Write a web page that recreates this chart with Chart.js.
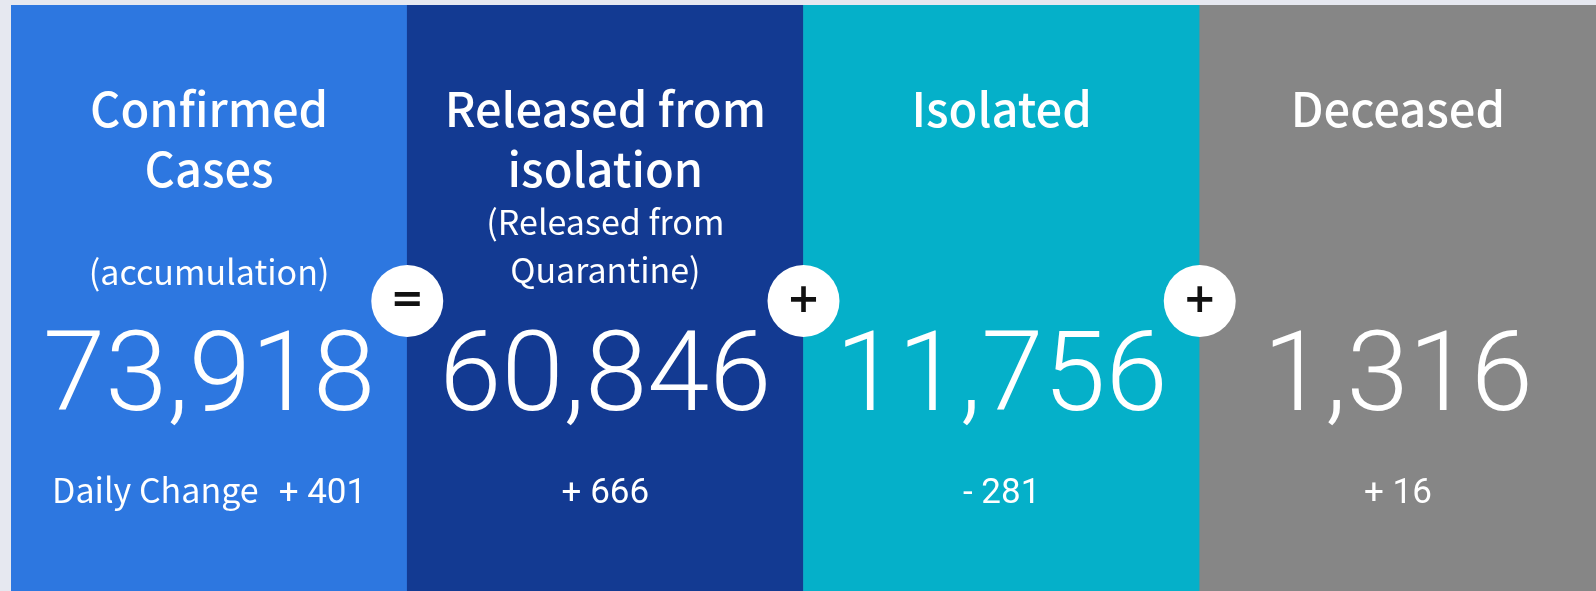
<!DOCTYPE html>
<html>
<head>
<meta charset="utf-8">
<script src="https://cdn.jsdelivr.net/npm/chart.js"></script>
<style>
    html, body { margin: 0; padding: 0; background: #e6e8f0; overflow: hidden; }
    #wrap { position: absolute; left: 11px; top: 5px; right: 0; bottom: 0; }
</style>
</head>
<body>
<div id="wrap"><canvas id="board"></canvas></div>
<script>
// panel data
const categories = ['Confirmed Cases', 'Released from isolation', 'Isolated', 'Deceased'];
const titleLines = [['Confirmed', 'Cases'], ['Released from', 'isolation'], ['Isolated'], ['Deceased']];
const noteLines = [['(accumulation)'], ['(Released from', 'Quarantine)'], [], []];
const totals = [73918, 60846, 11756, 1316];
const dailyChange = [401, 666, -281, 16];
const operators = ['=', '+', '+'];
const panelSpan = [1, 1, 1, 1];
const panelColors = ['#2d77e0', '#133a92', '#05b0c9', '#868686'];

const numFont = 'Roboto';
const textFont = '"Noto Sans CJK KR", "Noto Sans", sans-serif';

function signed(v) {
    return (v < 0 ? '- ' : '+ ') + Math.abs(v);
}

const panelText = {
    id: 'panelText',
    afterDatasetsDraw(chart) {
        const ctx = chart.ctx;
        const xs = chart.scales.x;
        const top = chart.chartArea.top;
        ctx.save();
        ctx.fillStyle = '#ffffff';
        ctx.textAlign = 'center';
        ctx.textBaseline = 'alphabetic';
        categories.forEach((c, i) => {
            const cx = xs.getPixelForValue(i);
            ctx.font = '500 47px ' + textFont;
            titleLines[i].forEach((t, k) => ctx.fillText(t, cx, top + 122 + k * 60));
            ctx.font = '34px ' + textFont;
            const n = noteLines[i];
            n.forEach((t, k) => {
                const base = n.length === 1 ? 280 : 230 + k * 48;
                ctx.fillText(t, cx, top + base);
            });
            ctx.font = '300 112px ' + numFont;
            ctx.fillText(totals[i].toLocaleString('en-US'), cx, top + 405);
            // daily change line
            const chg = signed(dailyChange[i]);
            if (i === 0) {
                const label = 'Daily Change';
                ctx.font = '34px ' + textFont;
                const w1 = ctx.measureText(label).width;
                ctx.font = '35px ' + numFont;
                const w2 = ctx.measureText(chg).width;
                const gap = 20;
                const x0 = cx - (w1 + gap + w2) / 2;
                ctx.textAlign = 'left';
                ctx.font = '34px ' + textFont;
                ctx.fillText(label, x0, top + 498);
                ctx.font = '35px ' + numFont;
                ctx.fillText(chg, x0 + w1 + gap, top + 498);
                ctx.textAlign = 'center';
            } else {
                ctx.font = '35px ' + numFont;
                ctx.fillText(chg, cx, top + 498);
            }
        });
        // operator circles between panels
        operators.forEach((op, i) => {
            const bx = (xs.getPixelForValue(i) + xs.getPixelForValue(i + 1)) / 2;
            const by = top + 296;
            ctx.beginPath();
            ctx.arc(bx, by, 36, 0, Math.PI * 2);
            ctx.fillStyle = '#ffffff';
            ctx.fill();
            ctx.fillStyle = '#111111';
            ctx.font = 'bold 40px "DejaVu Sans"';
            ctx.textBaseline = 'middle';
            ctx.fillText(op, bx, by + 1);
            ctx.textBaseline = 'alphabetic';
        });
        ctx.restore();
    }
};

const config = {
    type: 'bar',
    data: {
        labels: categories,
        datasets: [{
            label: 'panel',
            data: panelSpan,
            backgroundColor: panelColors,
            borderWidth: 0,
            categoryPercentage: 1,
            barPercentage: 1
        }]
    },
    options: {
        responsive: true,
        maintainAspectRatio: false,
        animation: false,
        layout: { padding: 0 },
        plugins: {
            legend: { display: false },
            tooltip: { enabled: false }
        },
        scales: {
            x: { display: false },
            y: { display: false, min: 0, max: 1 }
        }
    },
    plugins: [panelText]
};

window.onload = function() {
    const ctx = document.getElementById('board').getContext('2d');
    window.board = new Chart(ctx, config);
};
</script>
</body>
</html>
